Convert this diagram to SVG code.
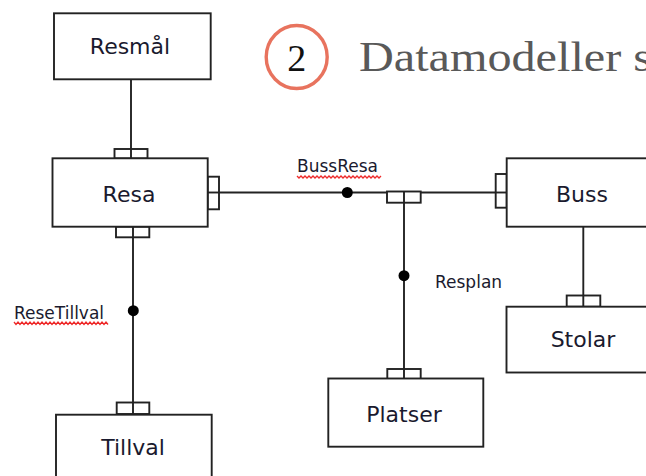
<svg xmlns="http://www.w3.org/2000/svg" width="646" height="476" viewBox="0 0 646 476">
<style>
.box{fill:#fff;stroke:#222;stroke-width:1.9}
.conn{fill:#fff;stroke:#222;stroke-width:1.9}
.line{stroke:#222;stroke-width:1.9;fill:none}
.dot{fill:#000}
.nt{font-family:"DejaVu Sans",Verdana,sans-serif;font-size:22px;fill:#1a1a2e;text-anchor:middle}
.lt{font-family:"DejaVu Sans",Verdana,sans-serif;font-size:17px;fill:#1a1a2e}
.wavy{fill:none;stroke:#ee2a2a;stroke-width:1.3}
</style>
<rect width="646" height="476" fill="#fff"/>
<g id="title">
<ellipse cx="296.7" cy="57" rx="30.5" ry="31.5" fill="none" stroke="#e8735e" stroke-width="3.4"/>
<text x="296.7" y="70.7" text-anchor="middle" font-family="Liberation Serif,serif" font-size="38" fill="#111">2</text>
<text x="359" y="70.7" font-family="Liberation Serif,serif" font-size="42" fill="#595959" textLength="293" lengthAdjust="spacingAndGlyphs">Datamodeller s</text>
</g>
<g id="connectors">
<line class="line" x1="131" y1="79" x2="131" y2="158"/>
<line class="line" x1="208" y1="192.5" x2="508" y2="192.5"/>
<line class="line" x1="404" y1="192.5" x2="404" y2="378"/>
<line class="line" x1="133" y1="226.7" x2="133" y2="414.7"/>
<line class="line" x1="583.3" y1="226.7" x2="583.3" y2="306.7"/>
<rect class="conn" x="114.5" y="149" width="33" height="9.5"/>
<rect class="conn" x="207.7" y="176.7" width="11.3" height="32.6"/>
<rect class="conn" x="495.7" y="174" width="11" height="33.7"/>
<rect class="conn" x="116" y="226.7" width="33.3" height="10.6"/>
<rect class="conn" x="387" y="191.5" width="33.7" height="11.2"/>
<rect class="conn" x="387.3" y="369" width="33.4" height="11"/>
<rect class="conn" x="116.7" y="402.5" width="32.6" height="11.5"/>
<rect class="conn" x="566.7" y="295.5" width="33.6" height="11.2"/>
<line class="line" x1="131" y1="149" x2="131" y2="158"/>
<line class="line" x1="219" y1="192.5" x2="208" y2="192.5"/>
<line class="line" x1="495.7" y1="192.5" x2="508" y2="192.5"/>
<line class="line" x1="133" y1="226.7" x2="133" y2="237.3"/>
<line class="line" x1="404" y1="191.5" x2="404" y2="202.7"/>
<line class="line" x1="404" y1="369" x2="404" y2="380"/>
<line class="line" x1="133" y1="402.5" x2="133" y2="414"/>
<line class="line" x1="583.3" y1="295.5" x2="583.3" y2="306.7"/>
<circle class="dot" cx="347.3" cy="192.5" r="5.5"/>
<circle class="dot" cx="404" cy="275.7" r="5.5"/>
<circle class="dot" cx="133.3" cy="310.7" r="5.5"/>
<text class="lt" x="297" y="171.5">BussResa</text>
<path class="wavy" d="M297,176 l2,2 2,-2 2,2 2,-2 2,2 2,-2 2,2 2,-2 2,2 2,-2 2,2 2,-2 2,2 2,-2 2,2 2,-2 2,2 2,-2 2,2 2,-2 2,2 2,-2 2,2 2,-2 2,2 2,-2 2,2 2,-2 2,2 2,-2 2,2 2,-2 2,2 2,-2 2,2 2,-2 2,2 2,-2 2,2 2,-2 2,2 2,-2"/>
<text class="lt" x="435" y="288.3">Resplan</text>
<text class="lt" x="14" y="319">ReseTillval</text>
<path class="wavy" d="M14,322 l2,2.5 2,-2.5 2,2.5 2,-2.5 2,2.5 2,-2.5 2,2.5 2,-2.5 2,2.5 2,-2.5 2,2.5 2,-2.5 2,2.5 2,-2.5 2,2.5 2,-2.5 2,2.5 2,-2.5 2,2.5 2,-2.5 2,2.5 2,-2.5 2,2.5 2,-2.5 2,2.5 2,-2.5 2,2.5 2,-2.5 2,2.5 2,-2.5 2,2.5 2,-2.5 2,2.5 2,-2.5 2,2.5 2,-2.5 2,2.5 2,-2.5 2,2.5 2,-2.5 2,2.5 2,-2.5 2,2.5 2,-2.5 2,2.5 2,-2.5 2,2.5"/>
</g>
<g id="Resmal">
<rect class="box" x="54" y="13.3" width="156.7" height="66"/>
<text class="nt" x="130" y="54">Resmål</text>
</g>
<g id="Resa">
<rect class="box" x="52.5" y="158.3" width="155.2" height="68.4"/>
<text class="nt" x="129" y="201.7">Resa</text>
</g>
<g id="Buss">
<rect class="box" x="506.7" y="158.3" width="160" height="68.4"/>
<text class="nt" x="582" y="201.7">Buss</text>
</g>
<g id="Stolar">
<rect class="box" x="506.5" y="306.7" width="160" height="65.8"/>
<text class="nt" x="583" y="347.3">Stolar</text>
</g>
<g id="Platser">
<rect class="box" x="328.3" y="378.5" width="155" height="68.2"/>
<text class="nt" x="404" y="421.7">Platser</text>
</g>
<g id="Tillval">
<rect class="box" x="56" y="414.7" width="155.7" height="70"/>
<text class="nt" x="133" y="455">Tillval</text>
</g>
</svg>
